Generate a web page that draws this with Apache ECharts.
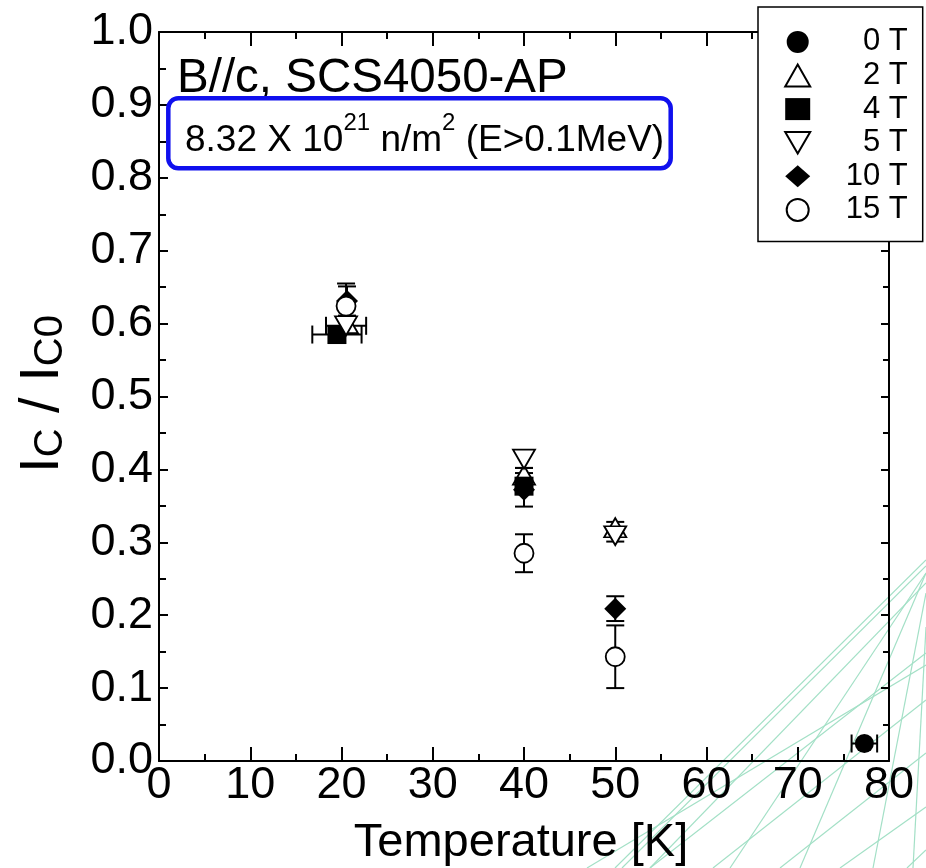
<!DOCTYPE html>
<html>
<head>
<meta charset="utf-8">
<script src="https://cdn.jsdelivr.net/npm/echarts@6/dist/echarts.min.js"></script>
<style>
  html, body { margin: 0; padding: 0; background: #fff; }
  #chart { width: 926px; height: 868px; }
</style>
</head>
<body>
<div id="chart"></div>
<script>
// magnetic fields (legend)
const fields = ['0 T', '2 T', '4 T', '5 T', '10 T', '15 T'];

// each point: [temperature K, Ic/Ic0, error in Ic/Ic0, error in T]
const data0T = [[77.3, 0.024, 0, 1.4]];
const data2T = [[20.6, 0.600, 0, 0], [40.0, 0.392, 0.010, 0], [50.0, 0.320, 0.008, 0]];
const data4T = [[19.5, 0.585, 0, 2.7], [40.0, 0.377, 0.010, 0]];
const data5T = [[20.5, 0.597, 0, 2.2], [40.0, 0.414, 0.012, 0], [50.0, 0.309, 0.008, 0]];
const data10T = [[20.6, 0.631, 0.020, 0], [40.0, 0.372, 0.023, 0], [50.0, 0.209, 0.017, 0]];
const data15T = [[20.5, 0.624, 0.031, 0], [40.0, 0.285, 0.026, 0], [50.0, 0.143, 0.043, 0]];

const xTicks = [0, 10, 20, 30, 40, 50, 60, 70, 80];
const yTicks = [0.0, 0.1, 0.2, 0.3, 0.4, 0.5, 0.6, 0.7, 0.8, 0.9, 1.0];

const FONT = 'Liberation Sans, Arial, sans-serif';
const chart = echarts.init(document.getElementById('chart'), null, { renderer: 'canvas' });

const allPoints = [].concat(data0T, data2T, data4T, data5T, data10T, data15T);

function renderErr(params, api) {
  const t = api.value(0), v = api.value(1), ey = api.value(2), et = api.value(3);
  const c = api.coord([t, v]);
  const cap = 9;
  const style = { stroke: '#000', lineWidth: 2 };
  const kids = [];
  if (ey > 0) {
    const a = api.coord([t, v + ey]), b = api.coord([t, v - ey]);
    kids.push({ type: 'line', shape: { x1: c[0], y1: a[1], x2: c[0], y2: b[1] }, style: style });
    kids.push({ type: 'line', shape: { x1: c[0] - cap, y1: a[1], x2: c[0] + cap, y2: a[1] }, style: style });
    kids.push({ type: 'line', shape: { x1: c[0] - cap, y1: b[1], x2: c[0] + cap, y2: b[1] }, style: style });
  }
  if (et > 0) {
    const l = api.coord([t - et, v]), r = api.coord([t + et, v]);
    kids.push({ type: 'line', shape: { x1: l[0], y1: c[1], x2: r[0], y2: c[1] }, style: style });
    kids.push({ type: 'line', shape: { x1: l[0], y1: c[1] - cap, x2: l[0], y2: c[1] + cap }, style: style });
    kids.push({ type: 'line', shape: { x1: r[0], y1: c[1] - cap, x2: r[0], y2: c[1] + cap }, style: style });
  }
  return { type: 'group', children: kids };
}

function scatter(name, data, symbol, size, filled, rotate) {
  return {
    name: name,
    type: 'scatter',
    data: data.map(d => [d[0], d[1]]),
    symbol: symbol,
    symbolSize: size,
    symbolRotate: rotate || 0,
    z: 5,
    itemStyle: {
      color: filled ? '#000' : '#fff',
      borderColor: '#000',
      borderWidth: filled ? 0 : 1.8,
      opacity: 1
    },
    emphasis: { disabled: true }
  };
}

// light green lines of the slide background
const deco = [
  [926, 560, 615, 868], [926, 566, 622, 868], [926, 573, 730, 868],
  [926, 583, 650, 868], [926, 593, 873, 868], [926, 627, 913, 868],
  [926, 653, 650, 868], [926, 665, 587, 868], [926, 700, 713, 868],
  [926, 573, 800, 868], [926, 753, 780, 868], [926, 807, 840, 868],
  [926, 850, 907, 868]
].map(p => ({
  type: 'line',
  z: 0,
  silent: true,
  shape: { x1: p[0], y1: p[1], x2: p[2], y2: p[3] },
  style: { stroke: '#a3e0c6', lineWidth: 1.2 }
}));

const axisCommon = {
  type: 'value',
  axisLine: { show: true, onZero: false, lineStyle: { color: '#000', width: 2 } },
  splitLine: { show: false }
};

const option = {
  animation: false,
  backgroundColor: '#fff',
  grid: { left: 159, right: 37, top: 32, bottom: 107, containLabel: false },
  xAxis: [
    Object.assign({}, axisCommon, {
      position: 'bottom', min: 0, max: 80, interval: 10,
      axisTick: { inside: true, length: 14, lineStyle: { color: '#000', width: 2 } },
      minorTick: { show: true, splitNumber: 2, length: 7, lineStyle: { color: '#000', width: 2 } },
      axisLabel: { color: '#000', fontSize: 45, fontFamily: FONT, margin: 2,
        formatter: v => (xTicks.indexOf(v) >= 0 ? String(v) : '') }
    }),
    Object.assign({}, axisCommon, {
      position: 'top', min: 0, max: 80, interval: 10,
      axisTick: { inside: true, length: 14, lineStyle: { color: '#000', width: 2 } },
      minorTick: { show: true, splitNumber: 2, length: 7, lineStyle: { color: '#000', width: 2 } },
      axisLabel: { show: false }
    })
  ],
  yAxis: [
    Object.assign({}, axisCommon, {
      position: 'left', min: 0, max: 1, interval: 0.1,
      axisTick: { inside: true, length: 9, lineStyle: { color: '#000', width: 2 } },
      minorTick: { show: true, splitNumber: 2, length: 7, lineStyle: { color: '#000', width: 2 } },
      axisLabel: { color: '#000', fontSize: 45, fontFamily: FONT, margin: 6,
        formatter: v => yTicks.find(t => Math.abs(t - v) < 1e-6).toFixed(1) }
    }),
    Object.assign({}, axisCommon, {
      position: 'right', min: 0, max: 1, interval: 0.1,
      axisTick: { inside: true, length: 8, lineStyle: { color: '#000', width: 2 } },
      minorTick: { show: true, splitNumber: 2, length: 6, lineStyle: { color: '#000', width: 2 } },
      axisLabel: { show: false }
    })
  ],
  legend: {
    data: fields.map(f => (f === '5 T' ? { name: f, icon: 'path://M0,0 L22,0 L11,19 Z' } : { name: f })),
    orient: 'vertical',
    left: 758,
    top: 7,
    itemWidth: 25,
    itemHeight: 22,
    itemGap: 2.6,
    padding: [19.4, 15, 16, 26.2],
    backgroundColor: '#fff',
    borderColor: '#000',
    borderWidth: 1.5,
    selectedMode: false,
    formatter: name => '{r|' + name + '}',
    textStyle: {
      color: '#000', fontSize: 31, fontFamily: FONT,
      rich: { r: { width: 92.5, align: 'right', fontSize: 31, fontFamily: FONT, color: '#000' } }
    }
  },
  graphic: deco.concat([
    {
      type: 'text', z: 10, x: 177, y: 78.5,
      style: { text: 'B//c, SCS4050-AP', fontSize: 47.5, fontFamily: FONT, fill: '#000', verticalAlign: 'middle' }
    },
    {
      type: 'rect', z: 10,
      shape: { x: 168.3, y: 98.3, width: 502.4, height: 70, r: 10 },
      style: { fill: '#fff', stroke: '#1010ee', lineWidth: 4.5 }
    },
    {
      type: 'text', z: 11, x: 185, y: 135,
      style: {
        text: '{n|8.32 X 10}{s|21}{n| n/m}{s|2}{n| (E>0.1MeV)}',
        verticalAlign: 'middle',
        rich: {
          n: { fontSize: 37, lineHeight: 48, verticalAlign: 'bottom', fontFamily: FONT, fill: '#000' },
          s: { fontSize: 24, lineHeight: 24, verticalAlign: 'top', fontFamily: FONT, fill: '#000' }
        }
      }
    },
    {
      type: 'text', z: 10, x: 43, y: 394, rotation: Math.PI / 2,
      style: {
        text: '{m|I}{c|C}{m| / I}{c|C0}',
        align: 'center',
        verticalAlign: 'middle',
        rich: {
          m: { fontSize: 56, lineHeight: 56, verticalAlign: 'top', fontFamily: FONT, fill: '#000' },
          c: { fontSize: 40, lineHeight: 22, verticalAlign: 'bottom', fontFamily: FONT, fill: '#000' }
        }
      }
    },
    {
      type: 'text', z: 10, x: 521, y: 843.5,
      style: { text: 'Temperature [K]', fontSize: 47, fontFamily: FONT, fill: '#000', align: 'center', verticalAlign: 'middle' }
    }
  ]),
  series: [
    {
      type: 'custom',
      name: 'err',
      data: allPoints,
      encode: { x: 0, y: 1 },
      renderItem: renderErr,
      z: 3,
      silent: true
    },
    scatter('0 T', data0T, 'circle', 19, true),
    scatter('2 T', data2T, 'triangle', [22, 19], false),
    scatter('4 T', data4T, 'rect', 19, true),
    scatter('5 T', data5T, 'triangle', [22, 19], false, 180),
    scatter('10 T', data10T, 'diamond', [22, 22], true),
    scatter('15 T', data15T, 'circle', 19, false)
  ]
};

chart.setOption(option);
</script>
</body>
</html>
